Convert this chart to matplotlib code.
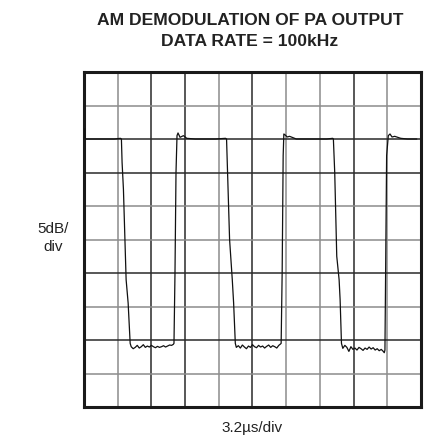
"""
AM demodulation of PA output - scope capture, redrawn with matplotlib.
"""

import matplotlib
matplotlib.use("Agg")
import matplotlib.pyplot as plt

# ===== Data (screen divisions) ===============================================

TITLE = "AM DEMODULATION OF PA OUTPUT\nDATA RATE = 100kHz"
X_LABEL = "3.2\u00b5s/div"
Y_LABEL = "5dB/\ndiv"

N_XDIV = 10
N_YDIV = 10

# grid line shade per division line (1..9), scanned scope grid is uneven
XGRID_DARK = [False, True, True, False, True, False, False, True, False]
YGRID_DARK = [False, True, False, True, False, False, True, True, False]

# trace: time in divisions
trace_t = [
    0.02, 0.03, 0.05, 0.3, 0.6, 0.9, 1.08,                      # high 1
    1.11, 1.13, 1.17, 1.25, 1.31, 1.37, 1.40,                   # fall 1
    1.46, 1.52, 1.58, 1.64, 1.70, 1.76, 1.82, 1.88, 1.94, 2.00,
    2.06, 2.12, 2.18, 2.24, 2.30, 2.36, 2.42, 2.48, 2.54, 2.60, 2.65,  # low 1
    2.67, 2.70, 2.73, 2.76, 2.79, 2.85, 2.95, 3.05, 3.3, 3.6, 3.9, 4.2,  # rise 1 / high 2
    4.23, 4.26, 4.32, 4.40, 4.44, 4.49, 4.52,                   # fall 2
    4.58, 4.64, 4.70, 4.76, 4.82, 4.88, 4.94, 5.00, 5.06, 5.12,
    5.18, 5.24, 5.30, 5.36, 5.42, 5.48, 5.54, 5.60, 5.66, 5.72, 5.78, 5.83,  # low 2
    5.85, 5.88, 5.91, 5.93, 5.97, 6.03, 6.10, 6.3, 6.6, 6.9, 7.2, 7.38,    # rise 2 / high 3
    7.40, 7.44, 7.50, 7.57, 7.60, 7.64, 7.68,                   # fall 3
    7.74, 7.80, 7.86, 7.92, 7.98, 8.04, 8.10, 8.16, 8.22, 8.28,
    8.34, 8.40, 8.46, 8.52, 8.58, 8.64, 8.70, 8.76, 8.82, 8.88, 8.91,  # low 3
    8.93, 8.95, 8.98, 9.03, 9.08, 9.14, 9.22, 9.4, 9.6, 9.87,   # rise 3 / high 4
]

# trace: level in divisions from the bottom
trace_v = [
    8.30, 8.05, 8.00, 8.00, 8.00, 8.00, 8.02,
    8.00, 7.30, 6.50, 3.80, 3.10, 1.90, 1.80,
    1.74, 1.78, 1.84, 1.76, 1.80, 1.86, 1.78, 1.82, 1.79, 1.84,
    1.80, 1.77, 1.81, 1.78, 1.80, 1.83, 1.79, 1.82, 1.85, 1.84, 1.87,
    1.90, 4.00, 7.00, 8.10, 8.18, 8.05, 8.10, 8.02, 8.00, 8.00, 8.00, 8.02,
    8.00, 7.00, 5.00, 3.80, 3.10, 1.90, 1.78,
    1.83, 1.76, 1.85, 1.79, 1.74, 1.82, 1.78, 1.86, 1.80, 1.77,
    1.84, 1.79, 1.82, 1.76, 1.81, 1.85, 1.78, 1.83, 1.80, 1.76, 1.84, 1.88,
    1.90, 4.00, 7.50, 8.15, 8.12, 8.06, 8.08, 8.00, 8.00, 8.00, 8.00, 8.02,
    8.00, 7.00, 4.50, 3.80, 3.20, 1.90, 1.75,
    1.84, 1.78, 1.66, 1.80, 1.72, 1.76, 1.70, 1.78, 1.74, 1.69,
    1.76, 1.72, 1.79, 1.73, 1.77, 1.70, 1.74, 1.68, 1.72, 1.66, 1.62,
    1.70, 4.00, 7.50, 8.10, 8.15, 8.06, 8.08, 8.02, 8.00, 8.00,
]

# ===== Plotting ==============================================================

fig = plt.figure(figsize=(4.27, 4.40), dpi=100)
ax = fig.add_axes([84 / 427, 33 / 440, 337 / 427, 335 / 440])

for i, dark in enumerate(XGRID_DARK, start=1):
    ax.axvline(i, color="#2a2a2a" if dark else "#8c8c8c", lw=1.1, zorder=1)
for i, dark in enumerate(YGRID_DARK, start=1):
    ax.axhline(i, color="#2a2a2a" if dark else "#8c8c8c", lw=1.1, zorder=1)

ax.plot(trace_t, trace_v, color="#111111", lw=0.9, zorder=3)

ax.set_xlim(0, N_XDIV)
ax.set_ylim(0, N_YDIV)
ax.set_xticks([])
ax.set_yticks([])
for sp in ax.spines.values():
    sp.set_linewidth(2.2)
    sp.set_color("#1a1a1a")

font = ["Liberation Sans", "DejaVu Sans"]
fig.text(250 / 427, 1 - 31 / 440, TITLE, ha="center", va="center",
         fontsize=12.6, fontweight="bold", family=font, color="#222222",
         linespacing=1.45)
fig.text(252 / 427, 1 - 428 / 440, X_LABEL, ha="center", va="center",
         fontsize=11, family=font, color="#222222")
fig.text(53 / 427, 1 - 238 / 440, Y_LABEL, ha="center", va="center",
         fontsize=11, family=font, color="#222222", linespacing=1.45)

fig.savefig("out.png", dpi=100)
